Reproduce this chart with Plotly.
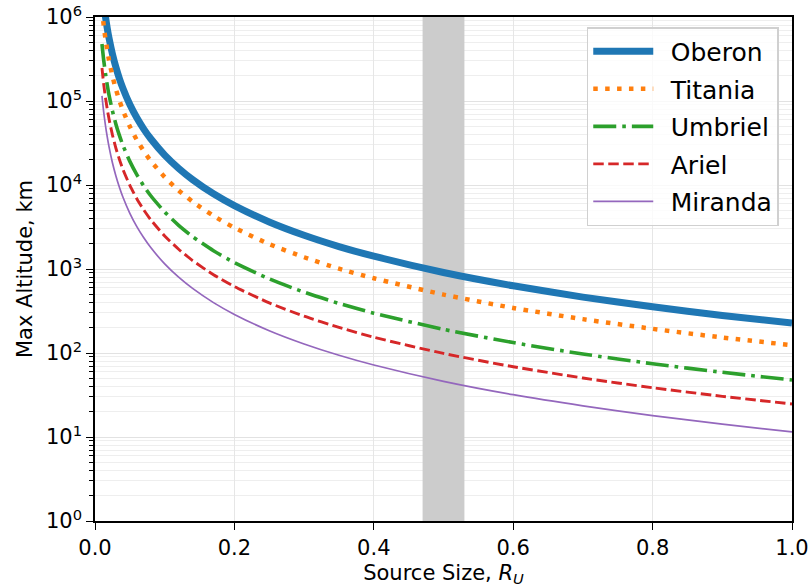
import plotly.graph_objects as go

source_size = [0.01, 0.0125, 0.015, 0.0175, 0.02, 0.025, 0.03, 0.035, 0.04, 0.05, 0.06, 0.07,
               0.08, 0.1, 0.12, 0.14, 0.17, 0.2, 0.25, 0.3, 0.35, 0.4, 0.5, 0.6, 0.7, 0.8, 0.9, 1.0]

oberon = [2270000, 1453000, 1009000, 741000, 567500, 363000, 252000, 185000, 142000, 90800, 63100, 46300,
          35500, 22700, 15800, 11600, 7850, 5680, 3630, 2520, 1850, 1420, 908, 631, 463, 355, 280, 227]
titania = [1240000, 794000, 551000, 405000, 310000, 198000, 138000, 101000, 77500, 49600, 34400, 25300,
           19400, 12400, 8610, 6330, 4290, 3100, 1980, 1380, 1010, 775, 496, 344, 253, 194, 153, 124]
umbriel = [477000, 305000, 212000, 156000, 119000, 76300, 53000, 38900, 29800, 19100, 13300, 9730,
           7450, 4770, 3310, 2430, 1650, 1190, 763, 530, 389, 298, 191, 133, 97.3, 74.5, 58.9, 47.7]
ariel = [247000, 158000, 110000, 80700, 61800, 39500, 27400, 20200, 15400, 9880, 6860, 5040,
         3860, 2470, 1720, 1260, 855, 618, 395, 274, 202, 154, 98.8, 68.6, 50.4, 38.6, 30.5, 24.7]
miranda = [115000, 73600, 51100, 37600, 28800, 18400, 12800, 9390, 7190, 4600, 3190, 2350,
           1800, 1150, 799, 587, 398, 288, 184, 128, 93.9, 71.9, 46.0, 31.9, 23.5, 18.0, 14.2, 11.5]

moon_names = ["Oberon", "Titania", "Umbriel", "Ariel", "Miranda"]
band_range = [0.47, 0.53]
y_range_vals = [1, 1000000]
y_tick_vals = [1, 10, 100, 1000, 10000, 100000, 1000000]
y_tick_text = ["10<sup>0</sup>", "10<sup>1</sup>", "10<sup>2</sup>", "10<sup>3</sup>",
               "10<sup>4</sup>", "10<sup>5</sup>", "10<sup>6</sup>"]

series = [oberon, titania, umbriel, ariel, miranda]
styles = [
    dict(color="#1f77b4", width=7, dash="solid"),
    dict(color="#ff7f0e", width=4.5, dash="4.5px,7.4px"),
    dict(color="#2ca02c", width=3.6, dash="23px,6px,3.6px,6px"),
    dict(color="#d62728", width=2.9, dash="10.5px,4.5px"),
    dict(color="#9467bd", width=1.7, dash="solid"),
]

fig = go.Figure()

# shaded band (above grid, below curves)
fig.add_trace(go.Scatter(
    x=[band_range[0], band_range[1], band_range[1], band_range[0], band_range[0]],
    y=[y_range_vals[0], y_range_vals[0], y_range_vals[1], y_range_vals[1], y_range_vals[0]],
    mode="lines", fill="toself", fillcolor="#cccccc", line=dict(width=0, color="#cccccc"),
    showlegend=False, hoverinfo="skip",
))

for i, (name, vals, st) in enumerate(zip(moon_names, series, styles)):
    fig.add_trace(go.Scatter(
        x=source_size, y=vals, mode="lines", name="\u2002" + name,
        line=dict(color=st["color"], width=st["width"], dash=st["dash"], shape="spline", smoothing=0.6),
        legendgroup=f"g{i}",
    ))

font_family = "DejaVu Sans"
fig.update_layout(
    width=809, height=587,
    margin=dict(l=95, r=17, t=17, b=66),
    paper_bgcolor="white", plot_bgcolor="white",
    font=dict(family=font_family, size=21, color="black"),
    showlegend=True,
    legend=dict(
        x=0.981, y=0.98, xanchor="right", yanchor="top",
        font=dict(size=25, family=font_family, color="black"),
        bgcolor="rgba(255,255,255,0.8)", bordercolor="#d0d0d0", borderwidth=1.5,
        itemwidth=60, tracegroupgap=2, traceorder="grouped",
    ),
    xaxis=dict(
        range=[0, 1], dtick=0.2, tick0=0, tickformat=".1f", automargin=False,
        showline=True, mirror=True, linecolor="black", linewidth=1.6,
        ticks="outside", ticklen=7, tickwidth=1.4, tickcolor="black",
        showgrid=True, gridcolor="#e6e6e6", gridwidth=1.2, zeroline=False,
        title=dict(text="Source Size, <i>R</i><sub><i>U</i></sub>", font=dict(size=21), standoff=6),
    ),
    yaxis=dict(
        type="log", range=[0, 6], automargin=False,
        tickvals=y_tick_vals, ticktext=y_tick_text,
        showline=True, mirror=True, linecolor="black", linewidth=1.6,
        ticks="outside", ticklen=7, tickwidth=1.4, tickcolor="black",
        showgrid=True, gridcolor="#e2e2e2", gridwidth=1.2, zeroline=False,
        minor=dict(dtick="D1", ticks="outside", ticklen=4, tickwidth=1, tickcolor="black",
                   showgrid=True, gridcolor="#eeeeee", gridwidth=1),
        title=dict(text="Max Altitude, km", font=dict(size=21), standoff=8),
    ),
)

fig.write_html("out.html")
